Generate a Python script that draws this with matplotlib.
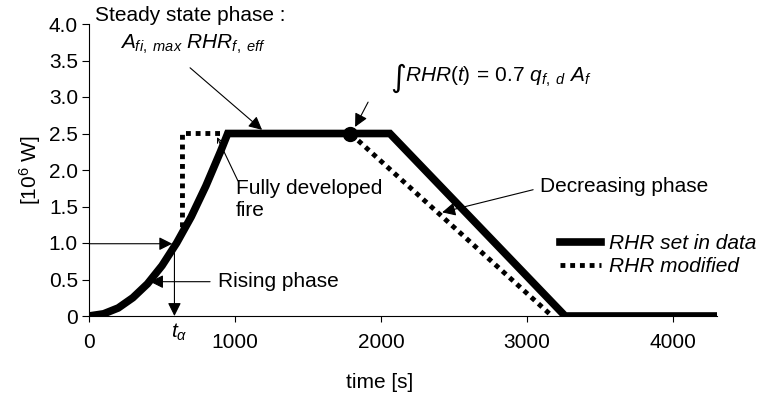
import matplotlib
matplotlib.use("Agg")
import matplotlib.pyplot as plt

plt.rcParams['font.family'] = ['Liberation Sans', 'DejaVu Sans']
plt.rcParams['mathtext.fontset'] = 'custom'
plt.rcParams['mathtext.rm'] = 'Liberation Sans'
plt.rcParams['mathtext.it'] = 'Liberation Sans:italic'
plt.rcParams['mathtext.bf'] = 'Liberation Sans:bold'

# data
t_set = [0, 100, 200, 300, 400, 500, 600, 700, 800, 900, 950, 2060, 3260, 4280]
rhr_set = [0, 0.03, 0.11, 0.25, 0.44, 0.69, 1.0, 1.36, 1.78, 2.25, 2.5, 2.5, 0, 0]
t_mod = [0, 100, 200, 300, 400, 500, 600, 640, 640, 950, 1790, 3170]
rhr_mod = [0, 0.03, 0.11, 0.25, 0.44, 0.69, 1.0, 1.14, 2.5, 2.5, 2.5, 0]
t_end_int, rhr_end_int = 1790, 2.5
t_alpha = 585

xticks = [0, 1000, 2000, 3000, 4000]
yticks = [0, 0.5, 1.0, 1.5, 2.0, 2.5, 3.0, 3.5, 4.0]
ytick_labels = ['0', '0.5', '1.0', '1.5', '2.0', '2.5', '3.0', '3.5', '4.0']

fs = 15
fig = plt.figure(figsize=(7.59, 3.94), dpi=100)
ax = fig.add_axes([89/759, 78/394, 628/759, 292/394])

ax.plot(t_mod, rhr_mod, color='k', lw=3.5, ls=(0, (1, 1)), label='RHR modified', zorder=2)
ax.plot(t_set, rhr_set, color='k', lw=5.5, solid_joinstyle='miter', label='RHR set in data', zorder=3)
ax.plot([t_end_int], [rhr_end_int], 'o', color='k', ms=10, zorder=4)

ax.set_xlim(0, 4300)
ax.set_ylim(0, 4.0)
ax.set_xticks(xticks)
ax.set_yticks(yticks)
ax.set_yticklabels(ytick_labels)
ax.tick_params(axis='both', labelsize=fs, direction='out', width=0.8)
ax.tick_params(axis='y', length=5, pad=3)
ax.tick_params(axis='x', length=4, pad=8)
for s in ['top', 'right']:
    ax.spines[s].set_visible(False)
for s in ['left', 'bottom']:
    ax.spines[s].set_linewidth(0.8)

ax.set_ylabel('[10$^{6}$ W]', fontsize=fs, labelpad=4)
ax.set_xlabel('time [s]', fontsize=fs)
ax.xaxis.set_label_coords(0.463, -0.195)

head = dict(arrowstyle='-|>', color='k', lw=0.8, mutation_scale=20, shrinkA=0, shrinkB=0)

ax.text(41, 4.12, 'Steady state phase :', fontsize=fs, va='center', clip_on=False)
ax.text(215, 3.72, r'$A_{fi,\ max}\ RHR_{f,\ eff}$', fontsize=fs, va='center', clip_on=False)
ax.annotate('', xy=(1185, 2.55), xytext=(692, 3.40), arrowprops=head)

ax.text(2060, 3.25, '\u222b', fontsize=fs + 7, va='center', family='DejaVu Sans')
ax.text(2165, 3.27, r'$RHR(t)\,=\,0.7\ q_{f,\ d}\ A_f$', fontsize=fs, va='center')
ax.annotate('', xy=(1822, 2.59), xytext=(1911, 2.93), arrowprops=head)

ax.text(1007, 1.59, 'Fully developed\nfire', fontsize=fs, va='center', linespacing=1.2)
ax.annotate('', xy=(877, 2.45), xytext=(1020, 1.85),
            arrowprops=dict(arrowstyle='->', color='k', lw=0.8, mutation_scale=8, shrinkA=0, shrinkB=0))

ax.text(3089, 1.78, 'Decreasing phase', fontsize=fs, va='center')
ax.annotate('', xy=(2418, 1.42), xytext=(3041, 1.73), arrowprops=head)

ax.annotate('', xy=(570, 0.99), xytext=(0, 0.99), arrowprops=head)
ax.annotate('', xy=(t_alpha, 0), xytext=(t_alpha, 0.99), arrowprops=head)
ax.text(t_alpha + 30, -0.22, r'$t_\alpha$', fontsize=fs, ha='center', va='center', clip_on=False)

ax.text(884, 0.47, 'Rising phase', fontsize=fs, va='center')
ax.annotate('', xy=(418, 0.47), xytext=(829, 0.47), arrowprops=head)

handles, labels = ax.get_legend_handles_labels()
leg = ax.legend(handles[::-1], labels[::-1], loc='upper left', bbox_to_anchor=(0.75, 0.28),
                frameon=False, fontsize=fs, handlelength=1.95, handletextpad=0.4,
                labelspacing=0.2, borderpad=0, borderaxespad=0)
for txt in leg.get_texts():
    txt.set_fontstyle('italic')

fig.savefig('out.png', dpi=100)
